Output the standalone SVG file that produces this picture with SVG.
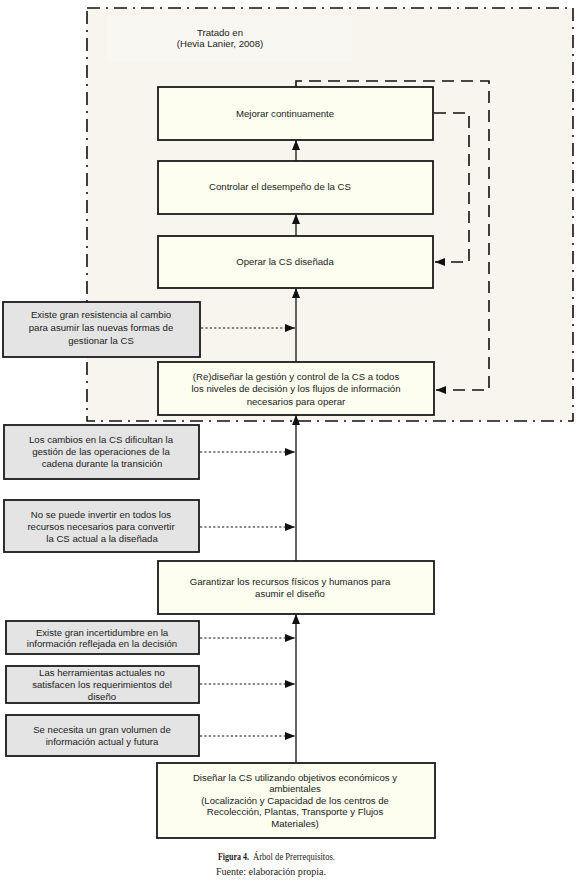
<svg xmlns="http://www.w3.org/2000/svg" width="580" height="881" viewBox="0 0 580 881">
<defs>
<style>
.t{font-family:"Liberation Sans",Arial,sans-serif;font-size:9.6px;fill:#222;text-anchor:middle}
.cap{font-family:"Liberation Serif","DejaVu Serif",serif;font-size:9.5px;fill:#222}
.y{fill:#fdfdf0;stroke:#1a1a1a;stroke-width:1.8}
.g{fill:#e4e4e4;stroke:#1a1a1a;stroke-width:1.8}
.solid{stroke:#111;stroke-width:1.3;fill:none}
.dot{stroke:#111;stroke-width:1.2;fill:none;stroke-dasharray:2.2 2.2}
.dash{stroke:#111;stroke-width:1.6;fill:none;stroke-dasharray:12 7}
</style>
<marker id="ah" viewBox="0 0 10 8" markerWidth="10" markerHeight="8" refX="10" refY="4" orient="auto" markerUnits="userSpaceOnUse">
<path d="M0,0 L10,4 L0,8 z" fill="#111"/>
</marker>
</defs>
<rect width="580" height="881" fill="#ffffff"/>
<g id="frame">
<rect x="87" y="8" width="486" height="413" fill="#f7f5ee" stroke="#111" stroke-width="1.6" stroke-dasharray="13 6 2 6"/>
<rect x="107" y="15" width="245" height="47" fill="#f9f7f2"/>
<text class="t" x="220" y="35.5">Tratado en</text>
<text class="t" x="220" y="47">(Hevia Lanier, 2008)</text>
</g>
<g id="connectors">
<line class="solid" x1="296" y1="763" x2="296" y2="614" marker-end="url(#ah)"/>
<line class="solid" x1="296" y1="561" x2="296" y2="415" marker-end="url(#ah)"/>
<line class="solid" x1="296" y1="362" x2="296" y2="288" marker-end="url(#ah)"/>
<line class="solid" x1="296" y1="236" x2="296" y2="214" marker-end="url(#ah)"/>
<line class="solid" x1="296" y1="161" x2="296" y2="140" marker-end="url(#ah)"/>
<line class="dot" x1="201" y1="328" x2="295" y2="328" marker-end="url(#ah)"/>
<line class="dot" x1="200" y1="452" x2="295" y2="452" marker-end="url(#ah)"/>
<line class="dot" x1="200" y1="527" x2="295" y2="527" marker-end="url(#ah)"/>
<line class="dot" x1="200" y1="638" x2="295" y2="638" marker-end="url(#ah)"/>
<line class="dot" x1="200" y1="684" x2="295" y2="684" marker-end="url(#ah)"/>
<line class="dot" x1="200" y1="736" x2="295" y2="736" marker-end="url(#ah)"/>
<path class="dash" d="M296,87 V81 H489 V390 H436" marker-end="url(#ah)"/>
<path class="dash" d="M434,113 H469 V262 H435" marker-end="url(#ah)"/>
</g>
<g id="mejorar">
<rect class="y" x="158" y="87" width="275" height="53"/>
<text class="t" x="285" y="117">Mejorar continuamente</text>
</g>
<g id="controlar">
<rect class="y" x="158" y="161" width="275" height="53"/>
<text class="t" x="280" y="190">Controlar el desempeño de la CS</text>
</g>
<g id="operar">
<rect class="y" x="158" y="236" width="275" height="52"/>
<text class="t" x="285" y="265">Operar la CS diseñada</text>
</g>
<g id="resistencia">
<rect class="g" x="3" y="302" width="197" height="55"/>
<text class="t" x="101" y="318">Existe gran resistencia al cambio</text>
<text class="t" x="101" y="331">para asumir las nuevas formas de</text>
<text class="t" x="101" y="343.5">gestionar la CS</text>
</g>
<g id="rediseñar">
<rect class="y" x="158" y="362" width="276" height="53"/>
<text class="t" x="296" y="379.5">(Re)diseñar la gestión y control de la CS a todos</text>
<text class="t" x="296" y="392">los niveles de decisión y los flujos de información</text>
<text class="t" x="296" y="404.5">necesarios para operar</text>
</g>
<g id="cambios">
<rect class="g" x="4" y="425" width="195" height="54"/>
<text class="t" x="101" y="442.5">Los cambios en la CS dificultan la</text>
<text class="t" x="101" y="455">gestión de las operaciones de la</text>
<text class="t" x="102" y="467">cadena durante la transición</text>
</g>
<g id="invertir">
<rect class="g" x="4" y="500" width="195" height="52"/>
<text class="t" x="101" y="517.5">No se puede invertir en todos los</text>
<text class="t" x="101" y="529.5">recursos necesarios para convertir</text>
<text class="t" x="102" y="541.5">la CS actual a la diseñada</text>
</g>
<g id="garantizar">
<rect class="y" x="158" y="561" width="276" height="53"/>
<text class="t" x="290" y="584.5">Garantizar los recursos físicos y humanos para</text>
<text class="t" x="290" y="596.5">asumir el diseño</text>
</g>
<g id="incertidumbre">
<rect class="g" x="6" y="621" width="193" height="33"/>
<text class="t" x="102" y="635.5">Existe gran incertidumbre en la</text>
<text class="t" x="102" y="646.5">información reflejada en la decisión</text>
</g>
<g id="herramientas">
<rect class="g" x="6" y="666" width="193" height="37"/>
<text class="t" x="102" y="675.5">Las herramientas actuales no</text>
<text class="t" x="102" y="687.5">satisfacen los requerimientos del</text>
<text class="t" x="102" y="699.5">diseño</text>
</g>
<g id="volumen">
<rect class="g" x="6" y="715" width="193" height="41"/>
<text class="t" x="102" y="732.5">Se necesita un gran volumen de</text>
<text class="t" x="102" y="744.5">información actual y futura</text>
</g>
<g id="diseñar">
<rect class="y" x="157" y="763" width="278" height="75"/>
<text class="t" x="295" y="780.5">Diseñar la CS utilizando objetivos económicos y</text>
<text class="t" x="295" y="792">ambientales</text>
<text class="t" x="295" y="803.5">(Localización y Capacidad de los centros de</text>
<text class="t" x="295" y="815">Recolección, Plantas, Transporte y Flujos</text>
<text class="t" x="295" y="826.5">Materiales)</text>
</g>
<g id="caption">
<text class="cap" x="218" y="860" font-weight="bold" textLength="31" lengthAdjust="spacingAndGlyphs">Figura 4.</text>
<text class="cap" x="253" y="860" textLength="82" lengthAdjust="spacingAndGlyphs">Árbol de Prerrequisitos.</text>
<text class="cap" x="216" y="875" textLength="110" lengthAdjust="spacingAndGlyphs">Fuente: elaboración propia.</text>
</g>
</svg>
